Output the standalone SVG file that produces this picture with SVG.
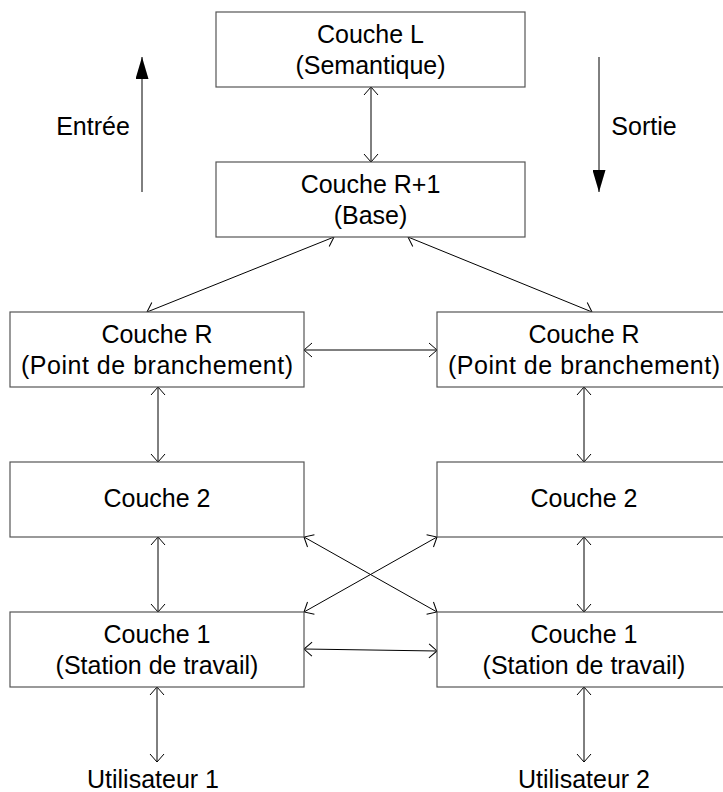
<svg xmlns="http://www.w3.org/2000/svg" width="723" height="792" viewBox="0 0 723 792">
  <style>
    .box { fill: #fff; stroke: #555; stroke-width: 1.2; }
    .lbl { font-family: "Liberation Sans", Arial, sans-serif; font-size: 25px; fill: #000; text-anchor: middle; }
    .con { stroke: #000; stroke-width: 1; fill: none; marker-start: url(#open); marker-end: url(#open); }
    .dir { stroke: #000; stroke-width: 1; fill: none; marker-end: url(#solid); }
  </style>
  <defs>
    <marker id="open" viewBox="0 0 10 16" refX="9" refY="8" markerWidth="10" markerHeight="16" markerUnits="userSpaceOnUse" orient="auto-start-reverse">
      <path d="M1,1 L9,8 L1,15" fill="none" stroke="#000" stroke-width="1"/>
    </marker>
    <marker id="solid" viewBox="0 0 22 13" refX="22" refY="6.5" markerWidth="22" markerHeight="13" markerUnits="userSpaceOnUse" orient="auto">
      <path d="M0,0 L22,6.5 L0,13 Z" fill="#000"/>
    </marker>
  </defs>
  <rect width="723" height="792" fill="#fff"/>

  <g id="connectors">
    <line class="con" x1="371" y1="87" x2="371" y2="162"/>
    <line class="con" x1="334" y1="237" x2="147" y2="312"/>
    <line class="con" x1="408" y1="237" x2="592" y2="312"/>
    <line class="con" x1="304" y1="350" x2="437" y2="350"/>
    <line class="con" x1="158" y1="387" x2="158" y2="462"/>
    <line class="con" x1="584" y1="387" x2="584" y2="462"/>
    <line class="con" x1="158" y1="537" x2="158" y2="612"/>
    <line class="con" x1="584" y1="537" x2="584" y2="612"/>
    <line class="con" x1="304" y1="537" x2="437" y2="612"/>
    <line class="con" x1="437" y1="537" x2="304" y2="612"/>
    <line class="con" x1="304" y1="649" x2="437" y2="651"/>
    <line class="con" x1="157" y1="687" x2="157" y2="762"/>
    <line class="con" x1="584" y1="687" x2="584" y2="762"/>
    <line class="dir" x1="142" y1="192" x2="142" y2="57"/>
    <line class="dir" x1="599" y1="57" x2="599" y2="192"/>
  </g>

  <g id="couche-l">
    <rect class="box" x="216" y="12" width="309" height="75"/>
    <text class="lbl" x="370.5" y="42.5">Couche L</text>
    <text class="lbl" x="370.5" y="73.5">(Semantique)</text>
  </g>
  <g id="couche-r1">
    <rect class="box" x="216" y="162" width="309" height="75"/>
    <text class="lbl" x="370.5" y="192.5">Couche R+1</text>
    <text class="lbl" x="370.5" y="223.5">(Base)</text>
  </g>
  <g id="couche-r-left">
    <rect class="box" x="10" y="312" width="294" height="75"/>
    <text class="lbl" x="157" y="342.5">Couche R</text>
    <text class="lbl" x="157" y="373.5" textLength="272">(Point de branchement)</text>
  </g>
  <g id="couche-r-right">
    <rect class="box" x="437" y="312" width="294" height="75"/>
    <text class="lbl" x="584" y="342.5">Couche R</text>
    <text class="lbl" x="584" y="373.5" textLength="272">(Point de branchement)</text>
  </g>
  <g id="couche-2-left">
    <rect class="box" x="10" y="462" width="294" height="75"/>
    <text class="lbl" x="157" y="507">Couche 2</text>
  </g>
  <g id="couche-2-right">
    <rect class="box" x="437" y="462" width="294" height="75"/>
    <text class="lbl" x="584" y="507">Couche 2</text>
  </g>
  <g id="couche-1-left">
    <rect class="box" x="10" y="612" width="294" height="75"/>
    <text class="lbl" x="157" y="642.5">Couche 1</text>
    <text class="lbl" x="157" y="673.5">(Station de travail)</text>
  </g>
  <g id="couche-1-right">
    <rect class="box" x="437" y="612" width="294" height="75"/>
    <text class="lbl" x="584" y="642.5">Couche 1</text>
    <text class="lbl" x="584" y="673.5">(Station de travail)</text>
  </g>
  <g id="utilisateur-1">
    <text class="lbl" x="153" y="788">Utilisateur 1</text>
  </g>
  <g id="utilisateur-2">
    <text class="lbl" x="584" y="788">Utilisateur 2</text>
  </g>
  <g id="entree">
    <text class="lbl" x="93" y="135">Entrée</text>
  </g>
  <g id="sortie">
    <text class="lbl" x="644" y="135">Sortie</text>
  </g>
</svg>
